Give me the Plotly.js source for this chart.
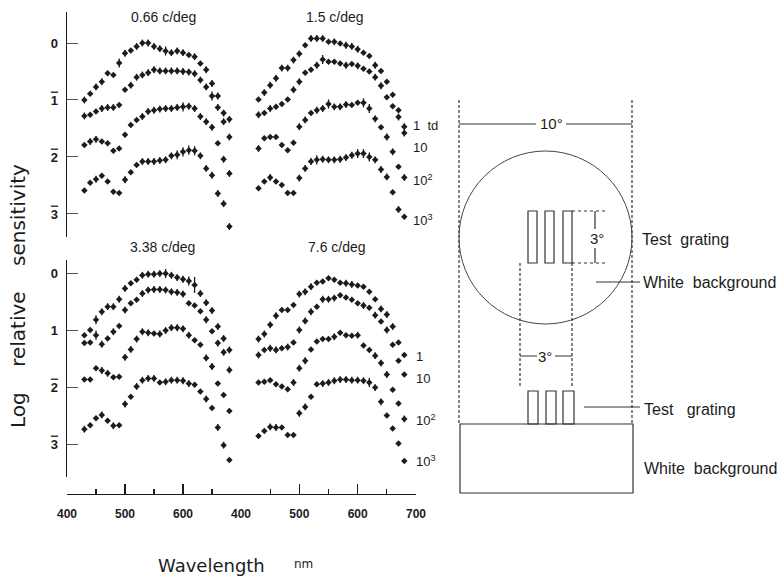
<!DOCTYPE html>
<html>
<head>
<meta charset="utf-8">
<script src="https://cdn.plot.ly/plotly-3.0.1.min.js"></script>
<style>html,body{margin:0;padding:0;background:#fff;}#chart{width:777px;height:577px;}</style>
</head>
<body>
<div id="chart"></div>
<script>
// ---------------- DATA ----------------
const wavelengths = [430,440,450,460,470,480,490,500,510,520,530,540,550,560,570,580,590,600,610,620,630,640,650,660,670,680];
const panelTitles = ['0.66 c/deg', '1.5 c/deg', '3.38 c/deg', '7.6 c/deg'];
const retinalIlluminance = ['1 td', '10', '10²', '10³'];
const xTickLabelsLeft = ['400', '500', '600'];
const xTickLabelsRight = ['400', '500', '600', '700'];
const OB = s => '<span style="text-decoration:overline">' + s + '</span>';
const yTickLabelsTop = ['0', OB('1'), OB('2'), OB('3')];
const yTickLabelsBottom = ['0', '1', OB('2'), OB('3')];
const axisTitleX = 'Wavelength';
const axisUnitX = 'nm';
const axisTitleY = 'Log\u00a0\u00a0\u00a0\u00a0relative\u00a0\u00a0\u00a0\u00a0sensitivity';

// log relative sensitivity, read as depth below 0 (plotted negative)
// 0.66 c/deg
const p066_1 = [1.00,0.89,0.77,0.68,0.53,0.56,0.35,0.18,0.13,0.06,0.00,0.00,0.06,0.10,0.14,0.17,0.14,0.17,0.21,0.24,0.36,0.47,0.71,0.93,1.23,1.34];
const p066_10 = [1.28,1.26,1.20,1.15,1.13,1.13,1.09,0.82,0.74,0.60,0.56,0.52,0.47,0.49,0.49,0.49,0.49,0.50,0.51,0.54,0.65,0.77,0.93,1.13,1.38,1.65];
const p066_100 = [1.79,1.73,1.69,1.73,1.76,1.89,1.85,1.61,1.44,1.35,1.29,1.20,1.18,1.16,1.15,1.15,1.13,1.12,1.11,1.15,1.29,1.38,1.48,1.76,2.04,2.29];
const p066_1000 = [2.59,2.45,2.39,2.33,2.43,2.61,2.63,2.40,2.27,2.14,2.08,2.08,2.08,2.06,2.05,1.98,1.96,1.91,1.88,1.89,1.98,2.20,2.32,2.64,2.82,3.22];
// 1.5 c/deg
const p15_1 = [0.99,0.87,0.74,0.62,0.44,0.44,0.30,0.19,0.04,-0.08,-0.08,-0.08,-0.02,-0.02,0.01,0.04,0.06,0.11,0.17,0.23,0.39,0.49,0.68,0.91,1.18,1.47];
const p15_10 = [1.26,1.23,1.15,1.12,1.07,0.99,0.82,0.68,0.52,0.47,0.39,0.29,0.33,0.33,0.36,0.39,0.37,0.40,0.45,0.50,0.60,0.75,0.95,1.11,1.30,1.58];
const p15_100 = [1.85,1.67,1.65,1.65,1.79,1.88,1.75,1.47,1.35,1.23,1.18,1.15,1.07,1.12,1.12,1.08,1.09,1.05,1.05,1.15,1.33,1.48,1.65,1.91,2.17,2.36];
const p15_1000 = [2.55,2.43,2.36,2.43,2.49,2.63,2.63,2.37,2.20,2.08,2.05,2.04,2.05,2.05,2.04,2.01,1.97,1.94,1.94,2.00,2.05,2.22,2.35,2.62,2.92,3.05];
// 3.38 c/deg
const p338_1 = [1.09,1.00,0.82,0.68,0.59,0.59,0.46,0.27,0.18,0.12,0.04,0.02,0.02,0.01,0.01,0.04,0.08,0.11,0.14,0.21,0.36,0.52,0.66,0.94,1.15,1.35];
const p338_10 = [1.23,1.22,1.09,1.25,1.15,1.03,0.93,0.65,0.53,0.47,0.36,0.30,0.29,0.29,0.30,0.33,0.34,0.37,0.53,0.57,0.67,0.82,1.02,1.23,1.39,1.70];
const p338_100 = [1.87,1.87,1.67,1.71,1.76,1.83,1.82,1.48,1.34,1.16,1.03,1.05,1.06,1.07,1.01,0.96,0.96,0.98,1.09,1.18,1.26,1.49,1.64,1.94,2.14,2.42];
const p338_1000 = [2.74,2.67,2.55,2.49,2.59,2.68,2.67,2.30,2.17,1.99,1.88,1.85,1.85,1.92,1.91,1.88,1.88,1.89,1.94,1.96,2.08,2.21,2.37,2.71,3.02,3.28];
// 7.6 c/deg
const p76_1 = [1.16,1.07,0.91,0.75,0.65,0.65,0.56,0.37,0.33,0.24,0.17,0.15,0.09,0.12,0.17,0.18,0.20,0.22,0.24,0.33,0.46,0.63,0.73,0.94,1.22,1.44];
const p76_10 = [1.44,1.35,1.32,1.35,1.32,1.30,1.22,1.00,0.84,0.68,0.59,0.46,0.46,0.44,0.39,0.43,0.47,0.53,0.57,0.61,0.74,0.85,1.00,1.26,1.54,1.78];
const p76_100 = [1.92,1.91,1.88,1.95,1.99,2.04,1.92,1.67,1.54,1.34,1.20,1.16,1.16,1.12,1.05,1.09,1.10,1.09,1.27,1.35,1.45,1.58,1.78,2.05,2.29,2.56];
const p76_1000 = [2.86,2.77,2.70,2.71,2.71,2.84,2.84,2.46,2.35,2.17,1.95,1.94,1.92,1.89,1.87,1.87,1.88,1.88,1.89,1.92,2.01,2.26,2.50,2.73,2.99,3.30];

// half-lengths of the vertical error bars (log units)
const e066_1 = [.06,.03,.06,.06,.03,.03,.08,.06,.03,.06,.06,.06,.06,.06,.08,.06,.06,.06,.03,.06,.03,.06,.06,.06,.06,.06];
const e066_10 = [.06,.03,.03,.06,.06,.06,.03,.03,.06,.06,.06,.06,.06,.06,.06,.06,.06,.06,.06,.06,.06,.06,.08,.06,.06,.06];
const e066_100 = [.03,.06,.06,.03,.03,.03,.03,.03,.03,.03,.06,.06,.06,.06,.06,.06,.06,.08,.06,.06,.06,.06,.06,.03,.06,.06];
const e066_1000 = [.03,.03,.06,.03,.03,.03,.03,.06,.03,.03,.06,.06,.06,.06,.06,.06,.08,.08,.08,.08,.06,.06,.06,.06,.06,.06];
const e15_1 = [.03,.06,.06,.06,.06,.06,.06,.06,.03,.06,.06,.06,.03,.06,.03,.06,.06,.06,.03,.03,.06,.03,.03,.03,.03,.06];
const e15_10 = [.06,.03,.06,.03,.03,.03,.06,.06,.03,.03,.06,.08,.03,.03,.03,.06,.03,.06,.03,.03,.06,.06,.03,.03,.06,.06];
const e15_100 = [.06,.03,.03,.03,.03,.03,.03,.06,.06,.03,.06,.06,.08,.06,.06,.06,.03,.03,.08,.08,.06,.03,.06,.06,.03,.06];
const e15_1000 = [.03,.03,.06,.03,.03,.03,.03,.06,.06,.06,.08,.06,.06,.06,.06,.06,.06,.08,.08,.08,.06,.06,.06,.03,.06,.03];
const e338_1 = [.03,.03,.08,.06,.06,.06,.06,.06,.03,.03,.06,.06,.06,.06,.08,.06,.06,.06,.08,.14,.06,.06,.06,.06,.06,.06];
const e338_10 = [.03,.03,.08,.06,.03,.06,.03,.06,.03,.03,.06,.06,.06,.06,.06,.06,.06,.06,.03,.03,.03,.06,.03,.06,.06,.06];
const e338_100 = [.03,.03,.03,.06,.06,.03,.03,.06,.06,.06,.06,.06,.03,.06,.06,.06,.06,.06,.06,.03,.03,.06,.06,.03,.03,.03];
const e338_1000 = [.06,.03,.03,.06,.03,.06,.03,.06,.03,.06,.06,.06,.06,.03,.06,.06,.06,.06,.06,.03,.03,.06,.03,.06,.06,.03];
const e76_1 = [.06,.06,.06,.06,.03,.03,.03,.06,.06,.06,.03,.03,.03,.03,.03,.06,.06,.03,.03,.03,.03,.06,.06,.06,.03,.03];
const e76_10 = [.06,.03,.06,.06,.03,.06,.03,.06,.06,.06,.03,.06,.06,.06,.03,.03,.03,.03,.06,.03,.06,.03,.06,.03,.03,.03];
const e76_100 = [.03,.03,.03,.03,.03,.03,.06,.06,.06,.03,.03,.03,.03,.06,.03,.03,.03,.06,.03,.03,.06,.06,.06,.03,.03,.06];
const e76_1000 = [.03,.03,.06,.06,.03,.03,.03,.06,.06,.03,.03,.06,.06,.06,.06,.06,.06,.06,.06,.08,.06,.06,.03,.03,.03,.03];

// ---------------- BUILD ----------------
const W = 777, H = 577;
const fx = p => p / W;
const fy = p => 1 - p / H;
const INK = '#1c1c1c';
const FONT = 'Liberation Sans, Arial, sans-serif';

const panels = [
  {x: 'x',  y: 'y',  series: [p066_1, p066_10, p066_100, p066_1000], errs: [e066_1, e066_10, e066_100, e066_1000]},
  {x: 'x2', y: 'y2', series: [p15_1, p15_10, p15_100, p15_1000],     errs: [e15_1, e15_10, e15_100, e15_1000]},
  {x: 'x',  y: 'y3', series: [p338_1, p338_10, p338_100, p338_1000], errs: [e338_1, e338_10, e338_100, e338_1000]},
  {x: 'x2', y: 'y4', series: [p76_1, p76_10, p76_100, p76_1000],     errs: [e76_1, e76_10, e76_100, e76_1000]}
];

const traces = [];
panels.forEach((p, pi) => {
  p.series.forEach((s, si) => {
    traces.push({
      type: 'scatter', mode: 'markers',
      name: panelTitles[pi] + ' ' + retinalIlluminance[si],
      x: wavelengths, y: s.map(v => -v),
      xaxis: p.x, yaxis: p.y,
      marker: {symbol: 'diamond', size: 5, color: INK, line: {width: 0}},
      error_y: {type: 'data', array: p.errs[si], visible: true, color: INK, thickness: 1.3, width: 0},
      showlegend: false, hoverinfo: 'x+y'
    });
  });
});

const xBase = {
  range: [400, 700], anchor: 'free', position: fy(494),
  showline: true, linecolor: INK, linewidth: 1.3, mirror: false,
  ticks: 'inside', ticklen: 10, tickwidth: 1.3, tickcolor: INK,
  tickmode: 'array', showgrid: false, zeroline: false,
  tickfont: {family: FONT, size: 12, color: INK, weight: 'bold'}, ticklabelstandoff: 8,
  minor: {tickmode: 'array', tickvals: [450, 550, 650], ticks: 'inside', ticklen: 5, tickwidth: 1.2, tickcolor: INK, showgrid: false}
};
const yBase = {
  showline: true, linecolor: INK, linewidth: 1.3,
  ticks: 'inside', ticklen: 11, tickwidth: 1, tickcolor: '#555',
  tickmode: 'array', tickvals: [0, -1, -2, -3],
  showgrid: false, zeroline: false,
  tickfont: {family: FONT, size: 13, color: INK, weight: 'bold'}, ticklabelstandoff: 5
};

const layout = {
  width: W, height: H,
  margin: {l: 0, r: 0, t: 0, b: 0},
  paper_bgcolor: '#fff', plot_bgcolor: 'rgba(0,0,0,0)',
  showlegend: false,
  xaxis: Object.assign({}, xBase, {domain: [fx(67), fx(241)], tickvals: [400, 500, 600], ticktext: xTickLabelsLeft}),
  xaxis2: Object.assign({}, xBase, {domain: [fx(241), fx(416)], tickvals: [400, 500, 600, 700], ticktext: xTickLabelsRight}),
  yaxis: Object.assign({}, yBase, {domain: [fy(237), fy(12)], range: [-3.404, 0.544], anchor: 'x', ticktext: yTickLabelsTop}),
  yaxis2: {domain: [fy(237), fy(12)], range: [-3.404, 0.544], anchor: 'x2', visible: false},
  yaxis3: Object.assign({}, yBase, {domain: [fy(477), fy(260)], range: [-3.579, 0.228], anchor: 'x', ticktext: yTickLabelsBottom}),
  yaxis4: {domain: [fy(477), fy(260)], range: [-3.579, 0.228], anchor: 'x2', visible: false},
  annotations: [],
  shapes: []
};

function txt(text, x, y, size, opts) {
  layout.annotations.push(Object.assign({
    text: text, xref: 'paper', yref: 'paper', x: fx(x), y: fy(y),
    showarrow: false, xanchor: 'center', yanchor: 'middle',
    font: {family: FONT, size: size, color: INK}
  }, opts || {}));
}

// panel titles
const titlePos = [[163, 17], [335, 17], [162, 247], [337, 247]];
panelTitles.forEach((t, i) => txt(t, titlePos[i][0], titlePos[i][1], 14));

// illuminance labels
const illumTop = [126, 147, 180, 220];
const illumBottom = [356, 378, 420, 461];
const illumTextTop = ['1\u00a0\u00a0td', '10', '10<sup>2</sup>', '10<sup>3</sup>'];
const illumTextBottom = ['1', '10', '10<sup>2</sup>', '10<sup>3</sup>'];
illumTextTop.forEach((t, i) => txt(t, 411, illumTop[i], 13, {xanchor: 'left'}));
illumTextBottom.forEach((t, i) => txt(t, 414, illumBottom[i], 13, {xanchor: 'left'}));

// axis titles
txt(axisTitleX, 211, 565, 18, {font: {family: 'DejaVu Sans, sans-serif', size: 18, color: INK}});
txt(axisUnitX, 303, 564, 12, {font: {family: 'DejaVu Sans, sans-serif', size: 12, color: INK}});
txt(axisTitleY, 18, 296, 20, {textangle: -90, font: {family: 'DejaVu Sans, sans-serif', size: 20, color: INK}});

// ---------------- STIMULUS DIAGRAM ----------------
const DASH = '3px,2px';
function line(x0, y0, x1, y1, dash, w) {
  layout.shapes.push({type: 'line', xref: 'paper', yref: 'paper',
    x0: fx(x0), y0: fy(y0), x1: fx(x1), y1: fy(y1),
    line: {color: '#333', width: w || 1, dash: dash || 'solid'}});
}
function rect(x0, y0, x1, y1, w) {
  layout.shapes.push({type: 'rect', xref: 'paper', yref: 'paper',
    x0: fx(x0), y0: fy(y0), x1: fx(x1), y1: fy(y1),
    line: {color: '#333', width: w || 1}, fillcolor: 'rgba(0,0,0,0)'});
}
// outer dashed bounds
line(459, 100, 459, 424, DASH, 1.2);
line(632, 100, 632, 424, DASH, 1.2);
// 10 deg dimension
line(459, 124, 536, 124);
line(566, 124, 632, 124);
txt('10°', 551, 124, 15);
// circle
layout.shapes.push({type: 'circle', xref: 'paper', yref: 'paper',
  x0: fx(459), y0: fy(324), x1: fx(632), y1: fy(151),
  line: {color: '#444', width: 1}});
// upper grating
rect(528, 211, 537, 263, 1.2);
rect(545, 211, 554, 263, 1.2);
rect(563, 211, 572, 263, 1.2);
line(572, 211, 607, 211, 'dot', 1);
line(572, 263, 607, 263, 'dot', 1);
line(595, 211, 595, 229, 'solid', 1.2);
line(595, 248, 595, 263, 'solid', 1.2);
txt('3°', 597, 238, 15);
txt('Test\u00a0\u00a0grating', 640, 239, 16, {xanchor: 'left'});
line(596, 282, 640, 282);
txt('White\u00a0\u00a0background', 641, 282, 16, {xanchor: 'left'});
// inner dashed
line(520, 263, 520, 388, DASH, 1.2);
line(572, 263, 572, 388, DASH, 1.2);
line(520, 356, 537, 356);
line(555, 356, 572, 356);
txt('3°', 545, 356, 15);
// lower grating
rect(528, 391, 538, 424, 1.2);
rect(546, 391, 556, 424, 1.2);
rect(563, 391, 574, 424, 1.2);
line(584, 407, 640, 407);
txt('Test\u00a0\u00a0\u00a0grating', 642, 409, 16, {xanchor: 'left'});
// background box
rect(460, 424, 633, 493, 1.2);
txt('White\u00a0\u00a0background', 642, 468, 16, {xanchor: 'left'});

Plotly.newPlot('chart', traces, layout, {displayModeBar: false, staticPlot: true});
</script>
</body>
</html>
